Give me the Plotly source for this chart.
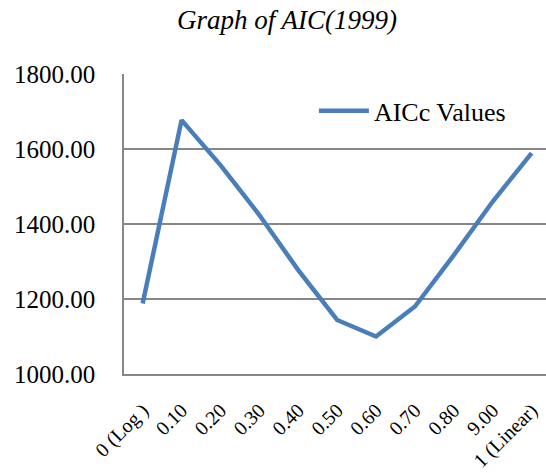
import plotly.graph_objects as go

categories = ["0 (Log )", "0.10", "0.20", "0.30", "0.40", "0.50", "0.60", "0.70", "0.80", "9.00", "1 (Linear)"]
aicc_values = [1188, 1677, 1557, 1424, 1277, 1144, 1100, 1180, 1317, 1460, 1589]
y_ticks = [1000, 1200, 1400, 1600, 1800]

FONT = "Liberation Serif"
GRID = "#878787"
positions = list(range(len(categories)))

fig = go.Figure()
fig.add_trace(go.Scatter(
    x=positions, y=aicc_values, mode="lines", name="AICc Values",
    line=dict(color="#4A7EBB", width=4.5),
))

fig.update_layout(
    width=546, height=473,
    margin=dict(l=124, r=0, t=74, b=99),
    paper_bgcolor="white", plot_bgcolor="white",
    font=dict(family=FONT, color="black"),
    title=dict(text="<i>Graph of AIC(1999)</i>", x=287/546, xanchor="center",
               y=1 - 20/473, yanchor="middle", font=dict(family=FONT, size=27)),
    showlegend=True,
    legend=dict(x=0.45, y=0.877, xanchor="left", yanchor="middle",
                bgcolor="rgba(0,0,0,0)", font=dict(family=FONT, size=26),
                itemwidth=50),
)
fig.update_xaxes(
    range=[-0.48, 10.37], tickmode="array", tickvals=positions, ticktext=categories,
    tickangle=-45, showgrid=False, showline=True, linecolor=GRID, linewidth=1.5,
    zeroline=False, ticks="", tickfont=dict(family=FONT, size=20),
    ticklabelstandoff=15, automargin=False,
)
fig.update_yaxes(
    range=[1000, 1800], tickmode="array", tickvals=y_ticks,
    ticktext=[f"{v:.2f}" for v in y_ticks],
    showgrid=True, gridcolor=GRID, gridwidth=1.5, showline=True, linecolor=GRID,
    linewidth=1.5, zeroline=False, ticks="", tickfont=dict(family=FONT, size=25),
    ticklabelstandoff=22, automargin=False,
)

fig.write_html("out.html")
